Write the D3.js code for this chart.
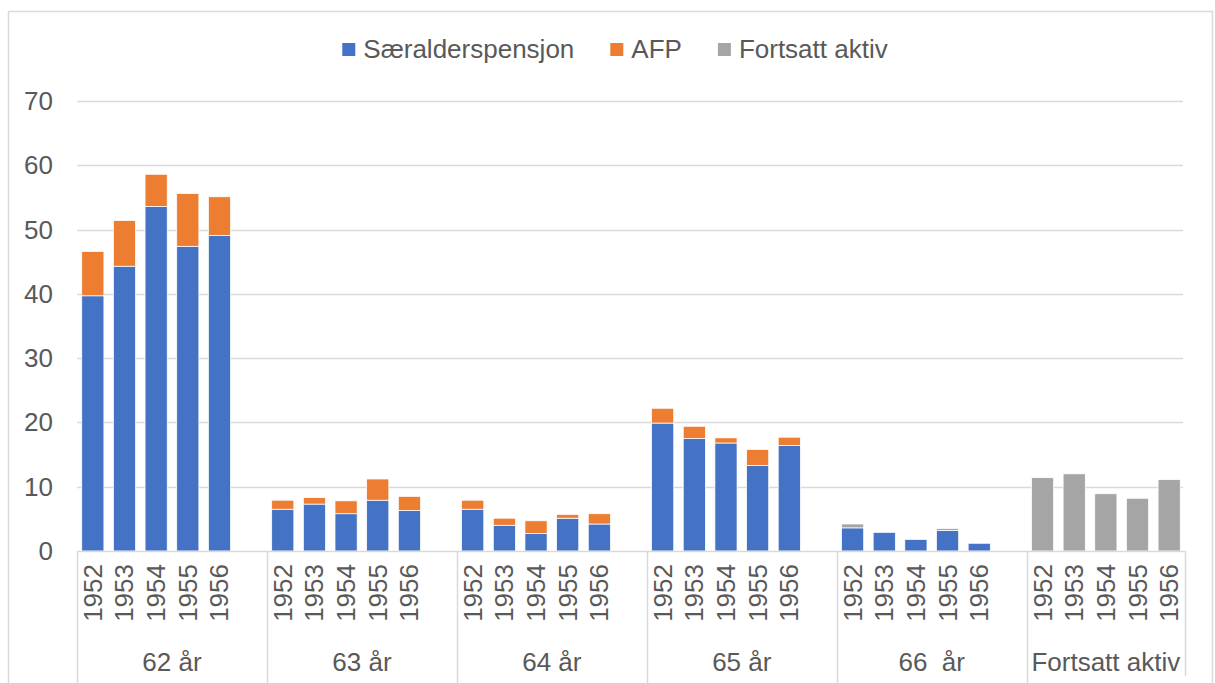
<!DOCTYPE html>
<html lang="no">
<head>
<meta charset="UTF-8">
<title>Særalderspensjon, AFP, fortsatt aktiv</title>
<script src="https://d3js.org/d3.v7.min.js"></script>
<style>
  body { margin: 0; background: #fff; }
  text { font-family: "Liberation Sans", Arial, sans-serif; fill: #595959; font-size: 26px; }
</style>
</head>
<body>
<svg width="1215" height="683" id="canvas"></svg>
<script>
    // data
    const groups = ["62 år", "63 år", "64 år", "65 år", "66  år", "Fortsatt aktiv"];
    const years = ["1952", "1953", "1954", "1955", "1956"];
    const seriesNames = ["Særalderspensjon", "AFP", "Fortsatt aktiv"];
    const colors = ["#4472C4", "#ED7D31", "#A5A5A5"];

    // one row per group, one value per year
    const saeralder = [
        [39.7, 44.3, 53.6, 47.4, 49.1],
        [6.5, 7.3, 5.8, 7.9, 6.3],
        [6.5, 4.0, 2.7, 5.1, 4.2],
        [19.9, 17.5, 16.8, 13.3, 16.4],
        [3.6, 2.9, 1.8, 3.2, 1.2],
        [0, 0, 0, 0, 0]
    ];
    const afp = [
        [6.9, 7.1, 5.0, 8.2, 6.0],
        [1.4, 1.0, 2.0, 3.3, 2.2],
        [1.4, 1.1, 2.0, 0.6, 1.6],
        [2.3, 1.9, 0.8, 2.5, 1.3],
        [0, 0, 0, 0, 0],
        [0, 0, 0, 0, 0]
    ];
    const fortsatt = [
        [0, 0, 0, 0, 0],
        [0, 0, 0, 0, 0],
        [0, 0, 0, 0, 0],
        [0, 0, 0, 0, 0],
        [0.6, 0, 0, 0.3, 0],
        [11.4, 12.0, 8.9, 8.2, 11.1]
    ];
    const yTicks = [0, 10, 20, 30, 40, 50, 60, 70];

    let svg = d3.select("svg");

    const plotLeft = 77, plotRight = 1185, plotTop = 101, plotBottom = 551;

    // chart border
    svg.append("rect")
        .attr("x", 8.5).attr("y", 11.5)
        .attr("width", 1204).attr("height", 700)
        .attr("fill", "none").attr("stroke", "#d9d9d9").attr("stroke-width", 1.5);

    // slots: 5 years per group, an empty slot between groups
    let slots = [];
    groups.forEach((g, gi) => {
        years.forEach(yr => slots.push(gi + "|" + yr));
        if (gi < groups.length - 1) slots.push("gap" + gi);
    });

    let x = d3.scaleBand().domain(slots).range([plotLeft, plotRight])
        .paddingInner(0.3).paddingOuter(0.15);
    let y = d3.scaleLinear().domain([0, 70]).range([plotBottom, plotTop]);

    // gridlines + y labels
    svg.append("g").selectAll("line").data(yTicks.slice(1)).enter().append("line")
        .attr("x1", plotLeft).attr("x2", plotRight - 2)
        .attr("y1", d => Math.round(y(d)) + 0.5).attr("y2", d => Math.round(y(d)) + 0.5)
        .attr("stroke", "#d9d9d9").attr("stroke-width", 1.5);

    svg.append("g").selectAll("text").data(yTicks).enter().append("text")
        .attr("x", 53).attr("y", d => y(d) + 9)
        .attr("text-anchor", "end")
        .text(d => d);

    // stacked rows
    let rows = [];
    groups.forEach((g, gi) => {
        years.forEach((yr, yi) => {
            rows.push({key: gi + "|" + yr, year: yr,
                s0: saeralder[gi][yi], s1: afp[gi][yi], s2: fortsatt[gi][yi]});
        });
    });
    let stack = d3.stack().keys(["s0", "s1", "s2"])(rows);

    svg.append("g").selectAll("g").data(stack).enter().append("g")
        .attr("fill", (d, i) => colors[i])
        .selectAll("rect").data(d => d.filter(p => p[1] - p[0] > 0)).enter().append("rect")
        .attr("x", d => x(d.data.key))
        .attr("width", x.bandwidth())
        .attr("y", d => y(d[1]))
        .attr("height", d => y(d[0]) - y(d[1]))
        .attr("stroke", "#fff").attr("stroke-width", 0.75);

    // category axis
    svg.append("line")
        .attr("x1", plotLeft).attr("x2", plotRight)
        .attr("y1", plotBottom + 0.5).attr("y2", plotBottom + 0.5)
        .attr("stroke", "#d9d9d9").attr("stroke-width", 1.5);

    let step = x.step();
    let bounds = groups.map((g, gi) => plotLeft + gi * 6 * step).concat([plotRight]);
    svg.append("g").selectAll("line").data(bounds).enter().append("line")
        .attr("x1", d => Math.round(d) + 0.5).attr("x2", d => Math.round(d) + 0.5)
        .attr("y1", plotBottom).attr("y2", (d, i) => i === bounds.length - 1 ? 676 : 683)
        .attr("stroke", "#d9d9d9").attr("stroke-width", 1.5);

    // rotated year labels
    svg.append("g").selectAll("text").data(rows).enter().append("text")
        .attr("transform", d => "translate(" + (x(d.key) + x.bandwidth() / 2 + 9) + "," + 564 + ") rotate(-90)")
        .attr("text-anchor", "end")
        .text(d => d.year);

    // group labels, centred in their group span
    svg.append("g").selectAll("text").data(groups).enter().append("text")
        .attr("x", (d, i) => (bounds[i] + bounds[i + 1]) / 2)
        .attr("y", 671)
        .attr("text-anchor", "middle")
        .style("white-space", "pre")
        .text(d => d);

    // legend
    let legend = svg.append("g");
    let lx = 0;
    seriesNames.forEach((name, i) => {
        legend.append("rect")
            .attr("x", lx).attr("y", 43).attr("width", 13).attr("height", 13)
            .attr("fill", colors[i]);
        let t = legend.append("text")
            .attr("x", lx + 21).attr("y", 58)
            .text(name);
        lx += 21 + t.node().getComputedTextLength() + 36;
    });
    let lw = lx - 36;
    legend.attr("transform", "translate(" + (615 - lw / 2) + ",0)");
</script>
</body>
</html>
